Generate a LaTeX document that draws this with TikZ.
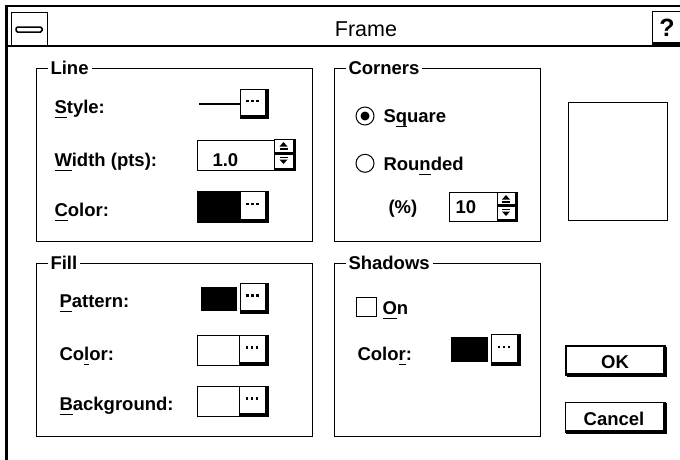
\documentclass[tikz,border=0pt]{standalone}
\usepackage{fontspec}
\setmainfont{Liberation Sans}
\newcommand\mn[1]{\setbox0\hbox{#1}\rlap{\rule[-4.5pt]{\wd0}{1pt}}#1}
\newcommand\dotbtn[4]{%
  \draw[fill=white] (#1,#2) rectangle (#3,#4);
  \fill ({#3-3},{#2+1}) rectangle (#3,#4);
  \fill ({#1+1},{#4-3}) rectangle (#3,#4);
  \pgfmathsetmacro\dbx{(#1+#3-3)/2}
  \pgfmathsetmacro\dby{(#2+#4-3)/2-1}
  \foreach \k in {-5,0,5} \fill ({\dbx+\k-1.1},{\dby-1.1}) rectangle ({\dbx+\k+1.1},{\dby+1.1});
}
\newcommand\spinner[4]{%
  \pgfmathsetmacro\spym{(#2+#4)/2}
  \pgfmathsetmacro\spcx{(#1+#3)/2-1}
  \draw[fill=white] (#1,#2) rectangle (#3,#4);
  \draw (#1,\spym) -- (#3,\spym);
  \fill ({#3-2.5},#2) rectangle (#3,#4);
  \fill (#1,{\spym-2.5}) rectangle (#3,\spym);
  \fill (#1,{#4-2.5}) rectangle (#3,#4);
  \fill (\spcx,{#2+3}) -- ({\spcx+4},{#2+7.5}) -- ({\spcx-4},{#2+7.5}) -- cycle;
  \fill ({\spcx-4},{#2+9}) rectangle ({\spcx+4},{#2+10.5});
  \fill ({\spcx-4},{\spym+2}) rectangle ({\spcx+4},{\spym+3.5});
  \fill ({\spcx-4},{\spym+5}) -- ({\spcx+4},{\spym+5}) -- (\spcx,{\spym+9.5}) -- cycle;
}
\begin{document}
\begin{tikzpicture}[x=1pt,y=-1pt,line width=1pt,
  lbl/.style={anchor=base west,inner sep=0pt,font=\fontsize{18.5}{21}\selectfont\bfseries},
  grplbl/.style={lbl,fill=white,inner xsep=3pt,inner ysep=1pt},
  grp/.style={draw,line width=1pt}]
\useasboundingbox (0,0) rectangle (680,459);
\clip (0,0) rectangle (680,459);
\fill[white] (0,0) rectangle (680,459);
% window frame
\draw[line width=3pt] (6.5,470) -- (6.5,6);
\draw[line width=2.5pt] (5,6.2) -- (690,6.2);
\draw[line width=1.2pt] (8,46) -- (690,46);
% system menu box
\draw (11,12.5) rectangle (47,46);
\draw[line width=1.5pt,rounded corners=1.5pt,fill=white] (16,27) rectangle (42,32);
% help box
\draw (690,11.5) -- (652,11.5) -- (652,44.5) -- (690,44.5);
\fill (653,42) rectangle (690,45);
\node[anchor=base,inner sep=0pt,font=\fontsize{25}{28}\selectfont\bfseries] (help) at (667,36.7) {?};
\node[anchor=base,inner sep=0pt,font=\fontsize{21.5}{24}\selectfont] (title) at (366,36.7) {Frame};
% groups
\draw[grp] (36,68.3) rectangle (312,241);
\draw[grp] (36,263) rectangle (312,436);
\draw[grp] (334,68.3) rectangle (540,241);
\draw[grp] (334,263) rectangle (540,436);
\node[grplbl] (gline) at (47,74) {Line};
\node[grplbl] (gfill) at (47,269) {Fill};
\node[grplbl] (gcorn) at (345,74) {Corners};
\node[grplbl] (gshad) at (345,269) {Shadows};
% Line group
\node[lbl] (tstyle) at (54,113) {\mn{S}tyle:};
\node[lbl] (twidth) at (54,166) {\mn{W}idth (pts):};
\node[lbl] (tcolor) at (54,216) {\mn{C}olor:};
\draw[line width=1.5pt] (199,104) -- (240,104);
\dotbtn{240}{89}{268}{118}
\draw[fill=white] (197,140) rectangle (274,170);
\node[lbl] (vwidth) at (212,166) {1.0};
\spinner{274}{139}{295}{170}
\fill (196.5,190.5) rectangle (240,222.5);
\dotbtn{240}{191}{268}{222}
% Fill group
\node[lbl] (tpat) at (59,307) {\mn{P}attern:};
\node[lbl] (tfcol) at (59,360) {Co\mn{l}or:};
\node[lbl] (tback) at (59,410) {\mn{B}ackground:};
\fill (201,287) rectangle (237,311);
\dotbtn{240}{283}{268}{313}
\draw (197,335) rectangle (239,365);
\dotbtn{239}{335}{268}{365}
\draw (197,386) rectangle (239,416);
\dotbtn{239}{386}{268}{416}
% Corners group
\draw (365,116) circle (9);
\fill (365,116) circle (4.5);
\node[lbl] (tsq) at (383,122) {S\mn{q}uare};
\draw (365,163.3) circle (9);
\node[lbl] (trnd) at (383,170.5) {Rou\mn{n}ded};
\node[lbl] (tpct) at (388,213) {(\%)};
\draw[fill=white] (449,192) rectangle (497,221);
\node[lbl] (vpct) at (455,213) {10};
\spinner{497}{192}{517}{221}
% preview
\draw (568,102) rectangle (667,220);
% Shadows group
\draw (356,297) rectangle (376,316);
\node[lbl] (ton) at (382,314) {\mn{O}n};
\node[lbl] (tscol) at (357,360.5) {Colo\mn{r}:};
\fill (451,337) rectangle (488,362);
\dotbtn{491}{334}{520}{365}
% push buttons
\draw[line width=2pt] (566,346) rectangle (665,375);
\fill (663,347) rectangle (667,377);
\fill (567,373) rectangle (667,377);
\node[anchor=base,inner sep=0pt,font=\fontsize{18.5}{21}\selectfont\bfseries] (ok) at (615,368) {OK};
\draw (565.5,402) rectangle (665,432);
\fill (663,403) rectangle (666.5,433.5);
\fill (566,430) rectangle (666.5,433.5);
\node[anchor=base,inner sep=0pt,font=\fontsize{18.5}{21}\selectfont\bfseries] (cancel) at (614,425) {Cancel};
\end{tikzpicture}
\end{document}
